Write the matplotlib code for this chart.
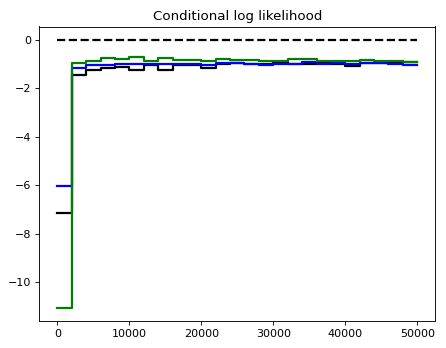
import numpy as np
import matplotlib
matplotlib.use("Agg")
import matplotlib.pyplot as plt

# iteration positions (one step every 2000)
steps = np.arange(0, 50001, 2000)

# log likelihood of each model
black_ll = [-7.15, -1.45, -1.23, -1.18, -1.11, -1.24, -1.05, -1.26, -1.04, -1.05,
            -1.14, -1.00, -0.97, -0.98, -0.99, -0.93, -1.00, -0.99, -0.97, -1.01,
            -1.06, -0.97, -0.97, -0.97, -0.90, -0.90]
blue_ll = [-6.03, -1.16, -1.05, -1.03, -0.99, -0.99, -1.00, -1.00, -1.00, -1.00,
           -1.04, -0.97, -0.96, -0.99, -1.04, -1.00, -0.99, -0.93, -1.00, -0.96,
           -0.99, -0.97, -0.97, -1.00, -1.02, -1.02]
green_ll = [-11.05, -0.97, -0.87, -0.75, -0.77, -0.72, -0.86, -0.74, -0.84, -0.83,
            -0.89, -0.78, -0.82, -0.82, -0.86, -0.87, -0.79, -0.79, -0.87, -0.87,
            -0.87, -0.81, -0.86, -0.87, -0.90, -0.90]
true_ll = [0.0] * len(steps)

dpi = 80
fig = plt.figure(figsize=(446 / dpi, 348 / dpi), dpi=dpi)
ax = fig.add_axes([39.3 / 446, 27 / 348, 396 / 446, 294.5 / 348])

ax.plot(steps, true_ll, "k--", lw=2)
ax.plot(steps, black_ll, color="k", lw=2, drawstyle="steps-post")
ax.plot(steps, blue_ll, color="b", lw=2, drawstyle="steps-post")
ax.plot(steps, green_ll, color="g", lw=2, drawstyle="steps-post")

ax.set_xticks([0, 10000, 20000, 30000, 40000, 50000])
ax.set_yticks([0, -2, -4, -6, -8, -10])
ax.set_title("Conditional log likelihood")

fig.savefig("out.png", dpi=dpi)
